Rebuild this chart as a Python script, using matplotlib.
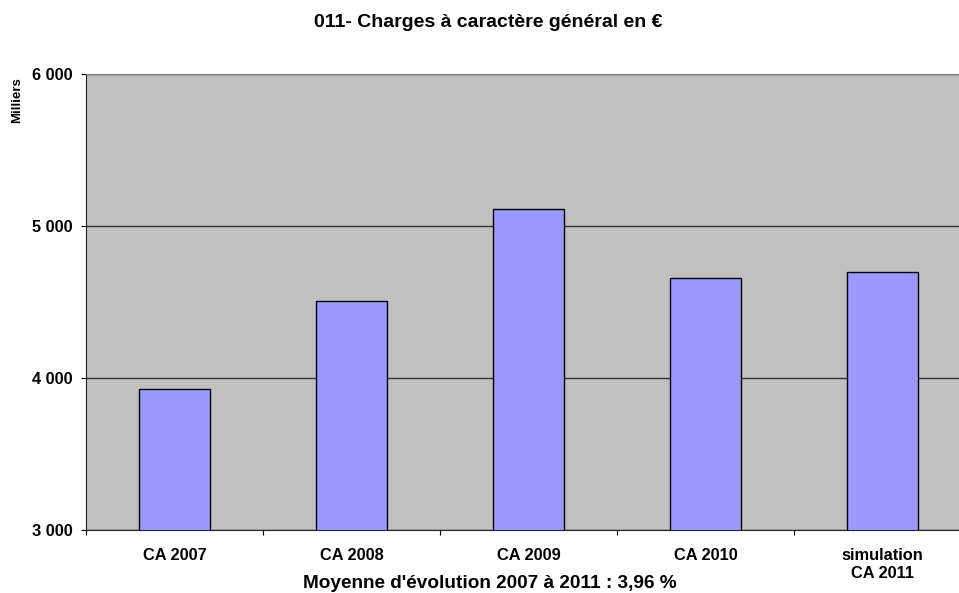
import numpy as np
import matplotlib.pyplot as plt
from matplotlib.ticker import FuncFormatter, FixedLocator

# données (milliers d'euros)
categories = ["CA 2007", "CA 2008", "CA 2009", "CA 2010", "simulation\nCA 2011"]
valeurs = [3928, 4506, 5111, 4657, 4700]
y_ticks = [3000, 4000, 5000, 6000]

plt.rcParams['font.family'] = ['Liberation Sans', 'DejaVu Sans']
plt.rcParams['font.weight'] = 'bold'

fig = plt.figure(figsize=(9.59, 5.93), dpi=100)
# la zone de tracé déborde un peu à droite (comme dans l'original)
ax = fig.add_axes([0.0897, 0.1062, 0.9228, 0.769])
ax.set_facecolor('#C0C0C0')

x = np.arange(len(categories))
ax.bar(x, valeurs, width=0.40, color='#9999FF', edgecolor='black', linewidth=1, zorder=3)

ax.set_xlim(-0.5, len(categories) - 0.5)
ax.set_ylim(3000, 6000)
ax.set_yticks(y_ticks)
ax.yaxis.set_major_formatter(FuncFormatter(lambda v, p: f"{int(v):,}".replace(",", " ")))
ax.grid(axis='y', color='#333333', linewidth=1, zorder=1)

# graduations entre les catégories
ax.xaxis.set_major_locator(FixedLocator(np.arange(-0.5, len(categories), 1.0)))
ax.xaxis.set_major_formatter(FuncFormatter(lambda v, p: ""))
ax.xaxis.set_minor_locator(FixedLocator(x))
ax.set_xticklabels(categories, minor=True, linespacing=1.25)
ax.tick_params(axis='x', which='minor', length=0, pad=13, labelsize=11.8)
ax.tick_params(axis='x', which='major', length=3.6, direction='out')
ax.tick_params(axis='y', length=3.6, direction='out', labelsize=11.8, pad=6)

for s in ['left', 'bottom']:
    ax.spines[s].set_color('#222222')
ax.spines['top'].set_color('#808080')
ax.spines['right'].set_visible(False)

fig.text(0.509, 0.9545, "011- Charges à caractère général en €", ha='center', va='baseline',
         fontsize=14, fontweight='bold')
fig.text(0.511, 0.0084, "Moyenne d'évolution 2007 à 2011 : 3,96 %", ha='center', va='baseline',
         fontsize=13.7, fontweight='bold')
fig.text(0.018, 0.831, "Milliers", rotation=90, ha='center', va='center', fontsize=9.5, fontweight='bold')

fig.savefig("out.png", dpi=100)
